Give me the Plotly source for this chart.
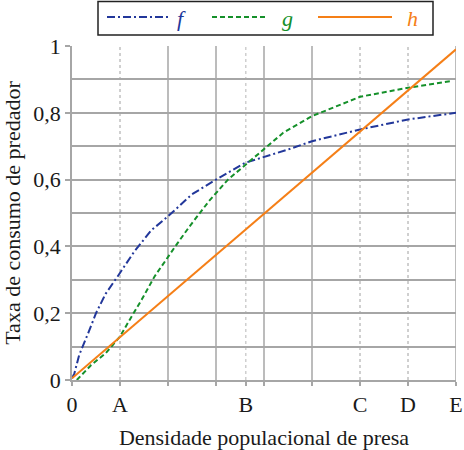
import plotly.graph_objects as go

# curve f (dash-dot, blue)
x_f = [0, 0.05, 0.15, 0.25, 0.35, 0.5, 0.7, 0.95, 1.3, 1.65, 2, 2.5, 3, 3.6, 4, 4.5, 5, 6, 7, 8]
f = [0.005, 0.02, 0.075, 0.108, 0.145, 0.2, 0.258, 0.31, 0.385, 0.448, 0.49, 0.556, 0.6, 0.65, 0.668, 0.69, 0.715, 0.75, 0.78, 0.80]

# curve g (dashed, green)
x_g = [0.1, 0.4, 0.7, 1, 1.2, 1.45, 1.72, 2, 2.2, 2.45, 2.85, 3.25, 3.7, 4, 4.4, 5, 6, 7, 7.9]
g = [0.0, 0.045, 0.08, 0.13, 0.18, 0.24, 0.31, 0.37, 0.41, 0.46, 0.535, 0.6, 0.655, 0.69, 0.74, 0.79, 0.848, 0.875, 0.895]

# curve h (solid, orange)
x_h = [0, 8]
h = [0.005, 0.99]

x_ticks = [0, 1, 2, 3, 3.62, 4, 5, 6, 7, 8]
x_ticktext = ["0", "A", "", "", "B", "", "", "C", "D", "E"]
y_ticks = [0, 0.2, 0.4, 0.6, 0.8, 1]
y_ticktext = ["0", "0,2", "0,4", "0,6", "0,8", "1"]

BLUE = "#22379a"
GREEN = "#15902a"
ORANGE = "#f57f17"
GRID = "#a6a6a6"
FONT = "Liberation Serif"

fig = go.Figure()
fig.add_trace(go.Scatter(x=x_f, y=f, mode="lines", line=dict(color=BLUE, width=2, dash="8px,3px,2px,3px")))
fig.add_trace(go.Scatter(x=x_g, y=g, mode="lines", line=dict(color=GREEN, width=2, dash="5px,3px")))
fig.add_trace(go.Scatter(x=x_h, y=h, mode="lines", line=dict(color=ORANGE, width=2)))

shapes = []
# vertical grid lines
for xv in [2, 3, 4, 5, 8]:
    shapes.append(dict(type="line", xref="x", yref="paper", x0=xv, x1=xv, y0=0, y1=1,
                       line=dict(color=GRID, width=1.5), layer="below"))
for xv in [1, 6, 7]:
    shapes.append(dict(type="line", xref="x", yref="paper", x0=xv, x1=xv, y0=0, y1=1,
                       line=dict(color="#a0a0a0", width=1, dash="3px,3px"), layer="below"))
shapes.append(dict(type="line", xref="x", yref="paper", x0=3.62, x1=3.62, y0=0, y1=1,
                   line=dict(color="#cfcfcf", width=1.5, dash="3px,3px"), layer="below"))


# legend (drawn by hand); positions given in page pixels
def px(v):
    return (v - 72) / 384


def py(v):
    return (380 - v) / 334


shapes.append(dict(type="rect", xref="paper", yref="paper", x0=px(98), x1=px(433), y0=py(35), y1=py(1.5),
                   line=dict(color="#222222", width=1.5), fillcolor="white"))
legend_items = [
    (107, 170, 181, BLUE, "8px,3px,2px,3px", "f"),
    (212, 265, 287, GREEN, "5px,3px", "g"),
    (318, 392, 412, ORANGE, "solid", "h"),
]
annotations = []
for x0, x1, xt, col, dash, name in legend_items:
    shapes.append(dict(type="line", xref="paper", yref="paper", x0=px(x0), x1=px(x1), y0=py(17), y1=py(17),
                       line=dict(color=col, width=2, dash=dash)))
    annotations.append(dict(xref="paper", yref="paper", x=px(xt), y=py(18), text="<i>" + name + "</i>",
                            showarrow=False, font=dict(family=FONT, size=22, color=col),
                            xanchor="center", yanchor="middle"))

fig.update_layout(
    width=464, height=450,
    margin=dict(l=72, r=8, t=46, b=70),
    paper_bgcolor="white", plot_bgcolor="white",
    showlegend=False,
    font=dict(family=FONT, size=22, color="#1a1a1a"),
    shapes=shapes,
    annotations=annotations,
    xaxis=dict(range=[0, 8], tickvals=x_ticks, ticktext=x_ticktext, showgrid=False, zeroline=False,
               showline=True, linecolor=GRID, linewidth=1.5, automargin=False,
               ticks="outside", ticklen=4, tickcolor=GRID, tickwidth=1.5,
               title=dict(text="Densidade populacional de presa", standoff=14,
                          font=dict(family=FONT, size=22, color="#1a1a1a")),
               tickfont=dict(size=22)),
    yaxis=dict(range=[0, 1], tickvals=y_ticks, ticktext=y_ticktext, showgrid=True, gridcolor=GRID, gridwidth=1.5,
               zeroline=False, showline=True, linecolor=GRID, linewidth=1.5, automargin=False,
               ticks="outside", ticklen=5, tickcolor=GRID, tickwidth=1.5,
               minor=dict(dtick=0.1, showgrid=True, gridcolor=GRID, gridwidth=1.5, ticks=""),
               title=dict(text="Taxa de consumo de predador", standoff=8,
                          font=dict(family=FONT, size=22, color="#1a1a1a")),
               tickfont=dict(size=22)),
)

# drop the browser's default 8px page margin so the figure fills the window
fig.write_html("out.html", config={"displayModeBar": False},
               post_script="document.body.style.margin='0';document.body.style.overflow='hidden';")
